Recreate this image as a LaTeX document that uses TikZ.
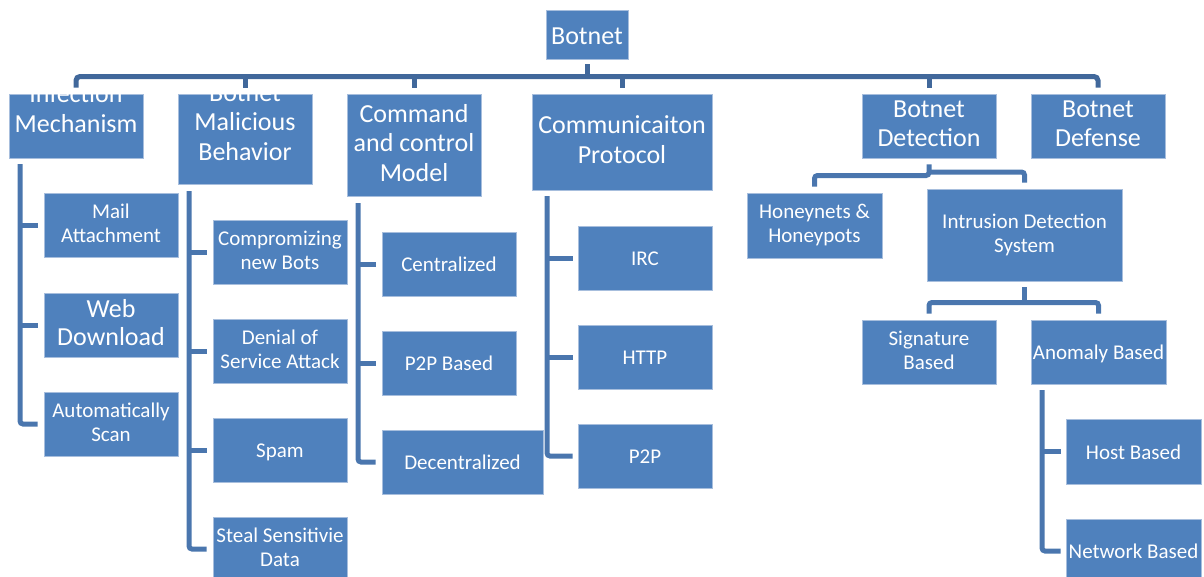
\documentclass[tikz,border=0pt]{standalone}
\usepackage{fontspec}
\setmainfont{Carlito}
\usetikzlibrary{calc}
\definecolor{boxblue}{HTML}{4F81BD}
\definecolor{boxedge}{HTML}{A7BEDD}
\definecolor{barcol}{HTML}{41689B}
\definecolor{lncol}{HTML}{4A76AE}
\newcommand\mystrut{\vrule height 0.835\baselineskip depth 0.165\baselineskip width 0pt\relax}
\begin{document}
\begin{tikzpicture}[x=1pt,y=-1pt,
  box/.style={rectangle, fill=boxblue, draw=boxedge, line width=0.8pt, text=white,
    align=center, inner sep=0pt, execute at begin node=\mystrut, execute at end node=\mystrut},
  txt/.style={text=white, align=center, inner sep=0pt, execute at begin node=\mystrut, execute at end node=\mystrut},
  big/.style={font=\fontsize{26}{29.5}\selectfont},
  small/.style={font=\fontsize{21}{23.5}\selectfont},
  conn/.style={draw=lncol, line width=5pt, rounded corners=3pt},
  barl/.style={draw=barcol, line width=5pt, rounded corners=4pt}]
\useasboundingbox (0,0) rectangle (1204,576);

% top level
\node[box,big,minimum width=82pt,minimum height=49pt] (botnet) at (587,34.5) {Botnet};

\node[box,minimum width=134pt,minimum height=64pt] (inf) at (76,126) {};
\begin{scope}
\clip (inf.south west) rectangle (inf.north east);
\node[txt,big] (inftxt) at (76,111) {Infection\\Mechanism};
\end{scope}

\node[box,minimum width=134pt,minimum height=90pt] (mal) at (245,139) {};
\begin{scope}
\clip (mal.south west) rectangle (mal.north east);
\node[txt,big] (maltxt) at (245,125) {Botnet\\Malicious\\Behavior};
\end{scope}

\node[box,big,minimum width=134pt,minimum height=102pt] (cmd) at (414,145) {Command\\and control\\Model};
\node[box,big,minimum width=180pt,minimum height=96pt] (com) at (622,142) {Communicaiton\\Protocol};
\node[box,big,minimum width=134pt,minimum height=64pt] (det) at (929,126) {Botnet\\Detection};
\node[box,big,minimum width=134pt,minimum height=64pt] (def) at (1098,126) {Botnet\\Defense};

% infection children
\node[box,small,minimum width=134pt,minimum height=64pt] (mail) at (111,225) {Mail\\Attachment};
\node[box,font=\fontsize{26}{28}\selectfont,minimum width=134pt,minimum height=64pt] (web) at (111,325) {Web\\Download};
\node[box,small,minimum width=134pt,minimum height=64pt] (auto) at (111,424) {Automatically\\Scan};

% malicious children
\node[box,small,minimum width=134pt,minimum height=64pt] (comp) at (280,252) {Compromizing\\new Bots};
\node[box,small,minimum width=134pt,minimum height=64pt] (dos) at (280,351) {Denial of\\Service Attack};
\node[box,small,minimum width=134pt,minimum height=64pt] (spam) at (280,450) {Spam};
\node[box,small,minimum width=134pt,minimum height=64pt] (steal) at (280,549) {Steal Sensitivie\\Data};

% command children
\node[box,small,minimum width=134pt,minimum height=64pt] (cent) at (449,264) {Centralized};
\node[box,small,minimum width=134pt,minimum height=64pt] (p2pb) at (449,363) {P2P Based};
\node[box,small,minimum width=161pt,minimum height=64pt] (decent) at (462.5,462) {Decentralized};

% protocol children
\node[box,small,minimum width=134pt,minimum height=64pt] (irc) at (645,258) {IRC};
\node[box,small,minimum width=134pt,minimum height=64pt] (http) at (645,357) {HTTP};
\node[box,small,minimum width=134pt,minimum height=64pt] (p2p) at (645,456) {P2P};

% detection children
\node[box,small,minimum width=135pt,minimum height=65pt] (honey) at (814.5,225.5) {Honeynets \&\\Honeypots};
\node[box,small,minimum width=195pt,minimum height=92pt] (ids) at (1024.5,235) {Intrusion Detection\\System};
\node[box,small,minimum width=134pt,minimum height=64pt] (sig) at (929,352) {Signature\\Based};
\node[box,small,minimum width=135pt,minimum height=64pt] (anom) at (1098.5,352) {Anomaly Based};
\node[box,small,minimum width=135pt,minimum height=65pt] (host) at (1133.5,451.5) {Host Based};
\node[box,small,minimum width=135pt,minimum height=64pt] (net) at (1133.5,551) {Network Based};

% connectors: top bar
\coordinate (bar) at (587,76.5);
\draw[barl] ([yshift=-5pt]botnet.south) -- (bar);
\draw[barl] ([yshift=6pt]inf.north) -- (inf.north |- bar) -- (def.north |- bar) -- ([yshift=6pt]def.north);
\foreach \n in {mal,cmd,com,det}
  \draw[barl] (\n.north |- bar) -- ([yshift=6pt]\n.north);

% infection
\coordinate (infv) at (20,164);
\draw[conn] (infv) |- ([xshift=-6pt]auto.west);
\foreach \n in {mail,web}
  \draw[conn] (infv |- \n.west) -- ([xshift=-6pt]\n.west);

% malicious
\coordinate (malv) at (189,191);
\draw[conn] (malv) |- ([xshift=-6pt]steal.west);
\foreach \n in {comp,dos,spam}
  \draw[conn] (malv |- \n.west) -- ([xshift=-6pt]\n.west);

% command
\coordinate (cmdv) at (358,203);
\draw[conn] (cmdv) |- ([xshift=-6pt]decent.west);
\foreach \n in {cent,p2pb}
  \draw[conn] (cmdv |- \n.west) -- ([xshift=-6pt]\n.west);

% protocol
\coordinate (comv) at (547,196);
\draw[conn] (comv) |- ([xshift=-5pt]p2p.west);
\foreach \n in {irc,http}
  \draw[conn] (comv |- \n.west) -- ([xshift=-5pt]\n.west);

% detection
\coordinate (detj) at (929,175.5);
\coordinate (detj2) at (929,172);
\draw[conn] ([yshift=-6pt]det.south) -- (detj) -| ([yshift=6pt]honey.north);
\draw[conn] (detj2) -| ([yshift=6pt]ids.north);

% ids
\coordinate (idsj) at (1024.5,302.5);
\draw[conn] ([yshift=-6pt]ids.south) -- (idsj);
\draw[conn] ([yshift=6pt]sig.north) |- (idsj) -| ([yshift=6pt]anom.north);

% anomaly
\coordinate (anv) at (1042,390);
\draw[conn] (anv) |- ([xshift=-5pt]net.west);
\draw[conn] (anv |- host.west) -- ([xshift=-5pt]host.west);
\end{tikzpicture}
\end{document}
